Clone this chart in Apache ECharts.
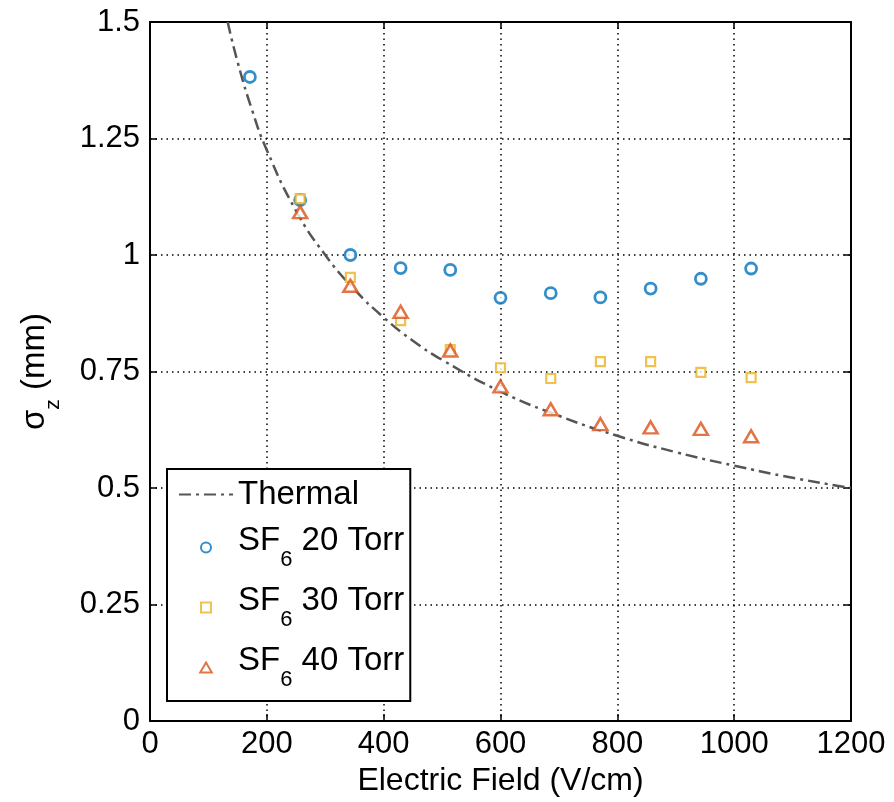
<!DOCTYPE html>
<html>
<head>
<meta charset="utf-8">
<title>sigma z vs electric field</title>
<script src="https://cdn.jsdelivr.net/npm/echarts@6/dist/echarts.min.js"></script>
<style>
html,body{margin:0;padding:0;background:#fff;}
#chart{width:894px;height:802px;}
</style>
</head>
<body>
<div id="chart"></div>
<script>
// field values (V/cm) where the gas was measured
var fieldSF6_20 = [171, 257, 343, 429, 514, 600, 686, 771, 857, 943, 1029];
var fieldSF6 = [257, 343, 429, 514, 600, 686, 771, 857, 943, 1029];

// sigma_z (mm)
var sigmaSF6_20 = [1.382, 1.118, 1.0, 0.972, 0.968, 0.908, 0.918, 0.909, 0.928, 0.949, 0.971];
var sigmaSF6_30 = [1.121, 0.952, 0.859, 0.797, 0.758, 0.735, 0.771, 0.771, 0.748, 0.737];
var sigmaSF6_40 = [1.092, 0.934, 0.878, 0.795, 0.718, 0.669, 0.637, 0.630, 0.627, 0.611];

// thermal diffusion curve, read point by point
var thermalField = [133, 150, 175, 200, 250, 300, 350, 400, 450, 500, 600, 700, 800, 900, 1000, 1100, 1200];
var thermalSigma = [1.5, 1.414, 1.31, 1.225, 1.095, 1.0, 0.926, 0.866, 0.816, 0.775, 0.707, 0.655, 0.612, 0.577, 0.548, 0.522, 0.5];

var xTicks = [0, 200, 400, 600, 800, 1000, 1200];
var yTicks = [0, 0.25, 0.5, 0.75, 1, 1.25, 1.5];

var FONT = "'Liberation Sans', Arial, Helvetica, sans-serif";
var C_BLUE = '#0072BD', C_YEL = '#EDB120', C_RED = '#D95319';

function pairs(xs, ys){
	var out = [];
	for(var i=0;i<xs.length;i++){
		out.push([xs[i], ys[i]]);
	}
	return out;
}

var myChart = echarts.init(document.getElementById('chart'), null, {renderer:'canvas'});

var gridLine = {show:true, lineStyle:{color:'#000', width:1.5, type:[1.5,4]}};
var frameLine = {show:true, onZero:false, lineStyle:{color:'#000', width:2}};

function xAx(pos, showLabel){
	return {
		type:'value', position:pos, min:xTicks[0], max:xTicks[xTicks.length-1], interval:200,
		axisLine:frameLine,
		axisTick:{show:true, inside:true, length:7, lineStyle:{color:'#000', width:1.5}},
		splitLine:showLabel ? gridLine : {show:false},
		axisLabel:{show:showLabel, color:'#000', fontSize:31, fontFamily:FONT, margin:8,
			formatter:function(v){ return String(v); }},
		name:showLabel ? 'Electric Field (V/cm)' : '',
		nameLocation:'middle', nameGap:44,
		nameTextStyle:{color:'#000', fontSize:32, fontFamily:FONT}
	};
}
function yAx(pos, showLabel){
	return {
		type:'value', position:pos, min:yTicks[0], max:yTicks[yTicks.length-1], interval:0.25,
		axisLine:frameLine,
		axisTick:{show:true, inside:true, length:7, lineStyle:{color:'#000', width:1.5}},
		splitLine:showLabel ? gridLine : {show:false},
		axisLabel:{show:showLabel, color:'#000', fontSize:31, fontFamily:FONT, margin:10},
		name:showLabel ? '{a|σ}{s|z}{a| (mm)}' : '',
		nameLocation:'middle', nameRotate:90, nameGap:86,
		nameTextStyle:{
			color:'#000', fontFamily:FONT,
			rich:{
				a:{fontSize:33, fontFamily:FONT, color:'#000', lineHeight:34, verticalAlign:'top'},
				s:{fontSize:21, fontFamily:FONT, color:'#000', lineHeight:46, verticalAlign:'bottom'}
			}
		}
	};
}

var option = {
	animation:false,
	backgroundColor:'#fff',
	grid:{left:150, right:43, top:22, bottom:77, containLabel:false},
	xAxis:[xAx('bottom', true), xAx('top', false)],
	yAxis:[yAx('left', true), yAx('right', false)],
	legend:{
		orient:'vertical', left:167, top:469,
		backgroundColor:'#fff', borderColor:'#000', borderWidth:2,
		padding:[9, 6, 10, 11],
		itemWidth:54, itemHeight:10, itemGap:13,
		symbolKeepAspect:true,
		data:[
			{name:'Thermal'},
			{name:'SF6 20 Torr', icon:'circle'},
			{name:'SF6 30 Torr', icon:'path://M0,0L8,0L8,8L0,8Z'},
			{name:'SF6 40 Torr', icon:'path://M5.5,0L11,9.5L0,9.5Z'}
		],
		formatter:function(name){
			if(name=='Thermal'){
				return '{t|Thermal}';
			}
			return '{a|SF}{s|6}{a|' + name.substring(3) + '}';
		},
		textStyle:{
			color:'#000', fontFamily:FONT,
			rich:{
				t:{fontSize:33, fontFamily:FONT, color:'#000', lineHeight:46},
				a:{fontSize:33, fontFamily:FONT, color:'#000', lineHeight:34, verticalAlign:'top'},
				s:{fontSize:22, fontFamily:FONT, color:'#000', lineHeight:47, verticalAlign:'bottom'}
			}
		}
	},
	series:[
		{
			name:'Thermal', type:'line', smooth:true, symbol:'none',
			data:pairs(thermalField, thermalSigma),
			lineStyle:{color:'#555', width:2.5, type:[12,5,3,5]},
			itemStyle:{color:'rgba(0,0,0,0)', borderWidth:0},
			z:3
		},
		{
			name:'SF6 20 Torr', type:'scatter', symbol:'circle', symbolSize:11,
			data:pairs(fieldSF6_20, sigmaSF6_20),
			itemStyle:{color:'#fff', borderColor:C_BLUE, borderWidth:2.8},
			z:4
		},
		{
			name:'SF6 30 Torr', type:'scatter', symbol:'rect', symbolSize:9,
			data:pairs(fieldSF6, sigmaSF6_30),
			itemStyle:{color:'#fff', borderColor:C_YEL, borderWidth:2.2},
			z:4
		},
		{
			name:'SF6 40 Torr', type:'scatter', symbol:'triangle', symbolSize:[14,12],
			data:pairs(fieldSF6, sigmaSF6_40),
			itemStyle:{color:'#fff', borderColor:C_RED, borderWidth:2.5},
			z:4
		}
	]
};
myChart.setOption(option);
</script>
</body>
</html>
